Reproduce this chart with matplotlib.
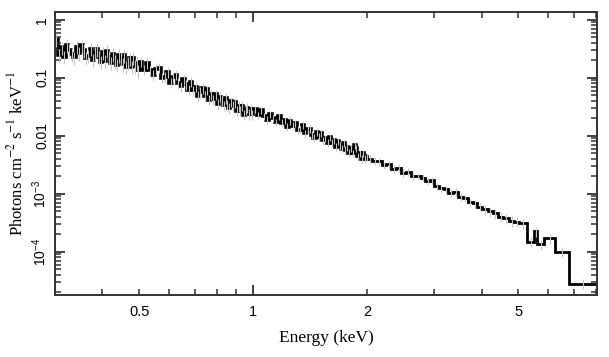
import numpy as np
import matplotlib.pyplot as plt
from matplotlib.ticker import FixedLocator, NullFormatter, FixedFormatter

# Нижні краї бінів (keV)
енергія = [
    0.300, 0.305, 0.310, 0.315, 0.320, 0.325, 0.330, 0.335, 0.340, 0.345,
    0.350, 0.355, 0.360, 0.365, 0.370, 0.375, 0.380, 0.385, 0.390, 0.395,
    0.400, 0.405, 0.410, 0.415, 0.420, 0.425, 0.430, 0.435, 0.440, 0.445,
    0.450, 0.455, 0.460, 0.465, 0.470, 0.475, 0.480, 0.485, 0.490, 0.495,
    0.50, 0.51, 0.52, 0.53, 0.54, 0.55, 0.56, 0.57, 0.58, 0.59,
    0.60, 0.61, 0.62, 0.63, 0.64, 0.65, 0.66, 0.67, 0.68, 0.69,
    0.70, 0.71, 0.72, 0.73, 0.74, 0.75, 0.76, 0.77, 0.78, 0.79,
    0.80, 0.81, 0.82, 0.83, 0.84, 0.85, 0.86, 0.87, 0.88, 0.89,
    0.90, 0.91, 0.92, 0.93, 0.94, 0.95, 0.96, 0.97, 0.98, 0.99,
    1.00, 1.02, 1.04, 1.06, 1.08, 1.10, 1.12, 1.14, 1.16, 1.18,
    1.20, 1.22, 1.24, 1.26, 1.28, 1.30, 1.32, 1.34, 1.36, 1.38,
    1.40, 1.42, 1.44, 1.46, 1.48, 1.50, 1.52, 1.54, 1.56, 1.58,
    1.60, 1.62, 1.64, 1.66, 1.68, 1.70, 1.72, 1.74, 1.76, 1.78,
    1.80, 1.82, 1.84, 1.86, 1.88, 1.90, 1.92, 1.94, 1.96, 1.98,
    2.000, 2.060, 2.120, 2.180, 2.240, 2.310, 2.380, 2.450, 2.520, 2.600,
    2.680, 2.760, 2.840, 2.920, 3.000, 3.090, 3.180, 3.270, 3.370, 3.470,
    3.570, 3.680, 3.790, 3.900, 4.020, 4.150, 4.280, 4.420, 4.560, 4.720,
    4.880, 5.030, 5.280, 5.510, 5.610, 5.830, 6.260, 6.780,
]
останній_край = 8.05

# Потік, photons cm^-2 s^-1 keV^-1
потік = [
    0.46, 0.247, 0.333, 0.232, 0.363, 0.305, 0.255, 0.224, 0.34, 0.266,
    0.36, 0.30, 0.221, 0.239, 0.318, 0.206, 0.266, 0.311, 0.225, 0.188,
    0.273, 0.198, 0.293, 0.225, 0.18, 0.256, 0.192, 0.168, 0.247, 0.219,
    0.172, 0.245, 0.154, 0.18, 0.215, 0.154, 0.22, 0.158, 0.179, 0.134,
    0.190, 0.138, 0.179, 0.135, 0.111, 0.142, 0.148, 0.100, 0.103, 0.126,
    0.082, 0.103, 0.113, 0.081, 0.0706, 0.0932, 0.077, 0.062, 0.0854, 0.0603,
    0.0704, 0.0484, 0.057, 0.0667, 0.0484, 0.0636, 0.0418, 0.0515, 0.0423, 0.0518,
    0.0352, 0.047, 0.041, 0.0335, 0.0448, 0.034, 0.0302, 0.0392, 0.0326, 0.038,
    0.0272, 0.0326, 0.027, 0.033, 0.0232, 0.028, 0.0303, 0.0238, 0.0286, 0.0234,
    0.0286, 0.0225, 0.0276, 0.0218, 0.0188, 0.0235, 0.0202, 0.0172, 0.0216, 0.0167,
    0.0184, 0.0143, 0.0181, 0.0148, 0.0165, 0.0128, 0.0128, 0.0154, 0.0110, 0.0129,
    0.0132, 0.0103, 0.0092, 0.0117, 0.0097, 0.0113, 0.0083, 0.0091, 0.0075, 0.0094,
    0.0075, 0.0084, 0.0065, 0.0080, 0.0067, 0.0060, 0.0074, 0.0057, 0.0064, 0.0051,
    0.0062, 0.0050, 0.0069, 0.0061, 0.0044, 0.0050, 0.0040, 0.0050, 0.0040, 0.0044,
    0.0040, 0.0037, 0.0036, 0.0031, 0.0032, 0.0027, 0.0028, 0.0023, 0.0024, 0.0020,
    0.0020, 0.0019, 0.00165, 0.0017, 0.00135, 0.00125, 0.0012, 0.00105, 0.00108, 0.00088,
    0.00085, 0.00072, 0.00068, 0.00060, 0.00054, 0.00050, 0.00046, 0.00040, 0.00038, 0.00034,
    0.00033, 0.00031, 0.00015, 0.000225, 0.000135, 0.00017, 0.00010, 0.000028,
]

# Відносні похибки по діапазонах енергії
межі_похибок = [0.3, 0.5, 1.0, 2.0, 4.0, 8.1]
відн_похибка = [0.26, 0.20, 0.15, 0.15, 0.20]

x_мітки = [0.5, 1, 2, 5]
y_мітки = [1, 0.1, 0.01, 1e-3, 1e-4]
y_підписи = ["1", "0.1", "0.01", r"$10^{-3}$", r"$10^{-4}$"]

assert len(енергія) == len(потік)
краї = np.array(енергія + [останній_край])
F = np.array(потік)
центри = np.sqrt(краї[:-1] * краї[1:])
idx = np.clip(np.searchsorted(межі_похибок, центри) - 1, 0, len(відн_похибка) - 1)
помилка = F * np.array(відн_похибка)[idx]

plt.rcParams['mathtext.fontset'] = 'custom'
plt.rcParams['mathtext.rm'] = 'Liberation Sans'
plt.rcParams['mathtext.it'] = 'Liberation Sans:italic'

fig = plt.figure(figsize=(6.09, 3.57), dpi=100)
ax = fig.add_axes([0.0903, 0.1737, 0.8897, 0.7923])

ax.errorbar(центри, F, yerr=помилка, fmt='none', ecolor='#c4c4c4', elinewidth=0.8)
# щільна частина (дрібні біни) трохи товщою лінією
n_щільн = енергія.index(2.000)
ax.stairs(F[:n_щільн], краї[:n_щільн + 1], color='black', linewidth=2.6, baseline=None)
ax.stairs(F[n_щільн - 1:], краї[n_щільн - 1:], color='black', linewidth=2.0, baseline=None)

ax.set_xscale('log')
ax.set_yscale('log')
ax.set_xlim(0.3, 8.05)
ax.set_ylim(1.8e-5, 1.35)

# Мітки осей
ax.xaxis.set_major_locator(FixedLocator([1]))
ax.xaxis.set_minor_locator(FixedLocator([0.3, 0.4, 0.5, 0.6, 0.7, 0.8, 0.9, 2, 3, 4, 5, 6, 7, 8]))
ax.xaxis.set_major_formatter(NullFormatter())
ax.xaxis.set_minor_formatter(NullFormatter())
for x in x_мітки:
    ax.text(x, -0.035, str(x), transform=ax.get_xaxis_transform(), ha='center', va='top',
            fontsize=10.5, family='Liberation Sans')

ax.yaxis.set_major_locator(FixedLocator(y_мітки))
ax.yaxis.set_major_formatter(FixedFormatter(y_підписи))
ax.yaxis.set_minor_locator(FixedLocator([m * 10.0 ** d for d in range(-5, 1) for m in range(2, 10)]))
ax.yaxis.set_minor_formatter(NullFormatter())
for lbl in ax.get_yticklabels():
    lbl.set_rotation(90)
    lbl.set_va('center')
    lbl.set_family('Liberation Sans')
    lbl.set_fontsize(10)

ax.tick_params(which='both', direction='in', top=True, right=True, color='#333333')
ax.tick_params(which='major', length=7, width=1.3)
ax.tick_params(which='minor', length=4, width=1.1)
ax.tick_params(axis='y', pad=4)
for s in ax.spines.values():
    s.set_linewidth(1.4)
    s.set_color('#333333')

ax.set_xlabel("Energy (keV)", family='Liberation Serif', fontsize=12.5, labelpad=22)
ax.set_ylabel(r"Photons cm$^{-2}$ s$^{-1}$ keV$^{-1}$", family='Liberation Serif',
              fontsize=12, labelpad=3, math_fontfamily='stix')

fig.savefig("out.png", dpi=100)
